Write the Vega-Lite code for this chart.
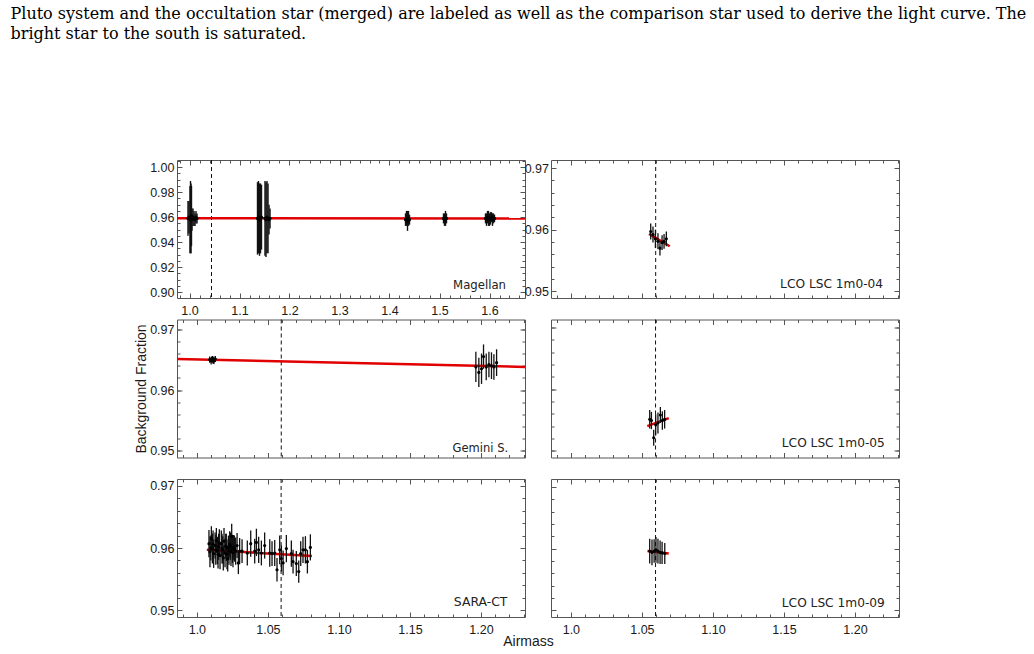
{
"$schema": "https://vega.github.io/schema/vega-lite/v6.json",
"background": "white",
"padding": {"left": 10, "top": 5, "right": 4, "bottom": 0},
"title": {"text": ["Pluto system and the occultation star (merged) are labeled as well as the comparison star used to derive the light curve. The", "bright star to the south is saturated."], "anchor": "start", "frame": "bounds", "font": "DejaVu Serif", "fontSize": 16, "fontWeight": "normal", "color": "#000", "lineHeight": 20.5, "baseline": "bottom", "offset": 101, "dx": -123},
"datasets": {
"pts": [
{"panel":"Magellan","airmass":0.997,"frac":0.959,"err":0.014},
{"panel":"Magellan","airmass":0.999,"frac":0.960,"err":0.013},
{"panel":"Magellan","airmass":1.001,"frac":0.958,"err":0.027},
{"panel":"Magellan","airmass":1.002,"frac":0.960,"err":0.029},
{"panel":"Magellan","airmass":1.003,"frac":0.959,"err":0.028},
{"panel":"Magellan","airmass":1.004,"frac":0.961,"err":0.024},
{"panel":"Magellan","airmass":1.005,"frac":0.958,"err":0.009},
{"panel":"Magellan","airmass":1.007,"frac":0.960,"err":0.007},
{"panel":"Magellan","airmass":1.009,"frac":0.959,"err":0.006},
{"panel":"Magellan","airmass":1.011,"frac":0.958,"err":0.005},
{"panel":"Magellan","airmass":1.013,"frac":0.960,"err":0.005},
{"panel":"Magellan","airmass":1.015,"frac":0.959,"err":0.004},
{"panel":"Magellan","airmass":1.136,"frac":0.959,"err":0.029},
{"panel":"Magellan","airmass":1.138,"frac":0.960,"err":0.029},
{"panel":"Magellan","airmass":1.140,"frac":0.958,"err":0.029},
{"panel":"Magellan","airmass":1.142,"frac":0.959,"err":0.028},
{"panel":"Magellan","airmass":1.144,"frac":0.960,"err":0.026},
{"panel":"Magellan","airmass":1.151,"frac":0.959,"err":0.030},
{"panel":"Magellan","airmass":1.153,"frac":0.958,"err":0.030},
{"panel":"Magellan","airmass":1.155,"frac":0.960,"err":0.029},
{"panel":"Magellan","airmass":1.157,"frac":0.959,"err":0.028},
{"panel":"Magellan","airmass":1.159,"frac":0.958,"err":0.012},
{"panel":"Magellan","airmass":1.161,"frac":0.959,"err":0.008},
{"panel":"Magellan","airmass":1.432,"frac":0.958,"err":0.005},
{"panel":"Magellan","airmass":1.434,"frac":0.959,"err":0.006},
{"panel":"Magellan","airmass":1.436,"frac":0.957,"err":0.008},
{"panel":"Magellan","airmass":1.438,"frac":0.959,"err":0.006},
{"panel":"Magellan","airmass":1.440,"frac":0.958,"err":0.004},
{"panel":"Magellan","airmass":1.508,"frac":0.959,"err":0.004},
{"panel":"Magellan","airmass":1.510,"frac":0.958,"err":0.005},
{"panel":"Magellan","airmass":1.512,"frac":0.959,"err":0.006},
{"panel":"Magellan","airmass":1.514,"frac":0.959,"err":0.004},
{"panel":"Magellan","airmass":1.592,"frac":0.959,"err":0.004},
{"panel":"Magellan","airmass":1.594,"frac":0.958,"err":0.005},
{"panel":"Magellan","airmass":1.596,"frac":0.960,"err":0.005},
{"panel":"Magellan","airmass":1.598,"frac":0.959,"err":0.006},
{"panel":"Magellan","airmass":1.600,"frac":0.958,"err":0.005},
{"panel":"Magellan","airmass":1.602,"frac":0.959,"err":0.005},
{"panel":"Magellan","airmass":1.604,"frac":0.960,"err":0.004},
{"panel":"Magellan","airmass":1.606,"frac":0.958,"err":0.005},
{"panel":"Magellan","airmass":1.608,"frac":0.959,"err":0.004},
{"panel":"Magellan","airmass":1.610,"frac":0.959,"err":0.003},
{"panel":"Gemini S.","airmass":1.009,"frac":0.9650,"err":0.0005},
{"panel":"Gemini S.","airmass":1.010,"frac":0.9648,"err":0.0006},
{"panel":"Gemini S.","airmass":1.0105,"frac":0.9651,"err":0.0004},
{"panel":"Gemini S.","airmass":1.011,"frac":0.9652,"err":0.0004},
{"panel":"Gemini S.","airmass":1.0115,"frac":0.9647,"err":0.0004},
{"panel":"Gemini S.","airmass":1.012,"frac":0.9649,"err":0.0006},
{"panel":"Gemini S.","airmass":1.013,"frac":0.9651,"err":0.0005},
{"panel":"Gemini S.","airmass":1.1964,"frac":0.9638,"err":0.0025},
{"panel":"Gemini S.","airmass":1.1985,"frac":0.9629,"err":0.0024},
{"panel":"Gemini S.","airmass":1.2004,"frac":0.9635,"err":0.0025},
{"panel":"Gemini S.","airmass":1.2018,"frac":0.9655,"err":0.0020},
{"panel":"Gemini S.","airmass":1.2037,"frac":0.9638,"err":0.0022},
{"panel":"Gemini S.","airmass":1.2056,"frac":0.9642,"err":0.0021},
{"panel":"Gemini S.","airmass":1.2074,"frac":0.9640,"err":0.0022},
{"panel":"Gemini S.","airmass":1.2091,"frac":0.9638,"err":0.0021},
{"panel":"Gemini S.","airmass":1.2110,"frac":0.9645,"err":0.0022},
{"panel":"SARA-CT","airmass":1.0085,"frac":0.9607,"err":0.0022},
{"panel":"SARA-CT","airmass":1.0092,"frac":0.9594,"err":0.0025},
{"panel":"SARA-CT","airmass":1.0098,"frac":0.9600,"err":0.0020},
{"panel":"SARA-CT","airmass":1.0102,"frac":0.9615,"err":0.0020},
{"panel":"SARA-CT","airmass":1.0109,"frac":0.9599,"err":0.0024},
{"panel":"SARA-CT","airmass":1.0114,"frac":0.9606,"err":0.0022},
{"panel":"SARA-CT","airmass":1.0118,"frac":0.9591,"err":0.0023},
{"panel":"SARA-CT","airmass":1.0128,"frac":0.9604,"err":0.0021},
{"panel":"SARA-CT","airmass":1.0133,"frac":0.9597,"err":0.0024},
{"panel":"SARA-CT","airmass":1.0137,"frac":0.9612,"err":0.0020},
{"panel":"SARA-CT","airmass":1.0144,"frac":0.9596,"err":0.0022},
{"panel":"SARA-CT","airmass":1.0149,"frac":0.9590,"err":0.0023},
{"panel":"SARA-CT","airmass":1.0153,"frac":0.9602,"err":0.0021},
{"panel":"SARA-CT","airmass":1.0158,"frac":0.9608,"err":0.0022},
{"panel":"SARA-CT","airmass":1.0163,"frac":0.9588,"err":0.0022},
{"panel":"SARA-CT","airmass":1.0172,"frac":0.9607,"err":0.0021},
{"panel":"SARA-CT","airmass":1.0177,"frac":0.9599,"err":0.0024},
{"panel":"SARA-CT","airmass":1.0182,"frac":0.9597,"err":0.0022},
{"panel":"SARA-CT","airmass":1.0186,"frac":0.9584,"err":0.0020},
{"panel":"SARA-CT","airmass":1.0191,"frac":0.9611,"err":0.0021},
{"panel":"SARA-CT","airmass":1.0198,"frac":0.9592,"err":0.0023},
{"panel":"SARA-CT","airmass":1.0203,"frac":0.9603,"err":0.0020},
{"panel":"SARA-CT","airmass":1.0207,"frac":0.9601,"err":0.0022},
{"panel":"SARA-CT","airmass":1.0212,"frac":0.9590,"err":0.0024},
{"panel":"SARA-CT","airmass":1.0217,"frac":0.9583,"err":0.0021},
{"panel":"SARA-CT","airmass":1.0222,"frac":0.9600,"err":0.0020},
{"panel":"SARA-CT","airmass":1.0226,"frac":0.9595,"err":0.0022},
{"panel":"SARA-CT","airmass":1.0231,"frac":0.9606,"err":0.0021},
{"panel":"SARA-CT","airmass":1.0236,"frac":0.9603,"err":0.0022},
{"panel":"SARA-CT","airmass":1.0240,"frac":0.9594,"err":0.0023},
{"panel":"SARA-CT","airmass":1.0245,"frac":0.9619,"err":0.0020},
{"panel":"SARA-CT","airmass":1.0250,"frac":0.9598,"err":0.0022},
{"panel":"SARA-CT","airmass":1.0254,"frac":0.9592,"err":0.0023},
{"panel":"SARA-CT","airmass":1.0259,"frac":0.9601,"err":0.0020},
{"panel":"SARA-CT","airmass":1.0264,"frac":0.9599,"err":0.0021},
{"panel":"SARA-CT","airmass":1.0273,"frac":0.9595,"err":0.0022},
{"panel":"SARA-CT","airmass":1.0283,"frac":0.9604,"err":0.0020},
{"panel":"SARA-CT","airmass":1.0292,"frac":0.9576,"err":0.0018},
{"panel":"SARA-CT","airmass":1.0301,"frac":0.9595,"err":0.0021},
{"panel":"SARA-CT","airmass":1.0318,"frac":0.9595,"err":0.0019},
{"panel":"SARA-CT","airmass":1.0355,"frac":0.9592,"err":0.0020},
{"panel":"SARA-CT","airmass":1.0379,"frac":0.9607,"err":0.0021},
{"panel":"SARA-CT","airmass":1.0407,"frac":0.9595,"err":0.0020},
{"panel":"SARA-CT","airmass":1.0419,"frac":0.9609,"err":0.0022},
{"panel":"SARA-CT","airmass":1.0435,"frac":0.9597,"err":0.0021},
{"panel":"SARA-CT","airmass":1.0454,"frac":0.9592,"err":0.0020},
{"panel":"SARA-CT","airmass":1.0477,"frac":0.9604,"err":0.0021},
{"panel":"SARA-CT","airmass":1.0513,"frac":0.9592,"err":0.0022},
{"panel":"SARA-CT","airmass":1.0529,"frac":0.9591,"err":0.0020},
{"panel":"SARA-CT","airmass":1.0548,"frac":0.9592,"err":0.0021},
{"panel":"SARA-CT","airmass":1.0564,"frac":0.9565,"err":0.0019},
{"panel":"SARA-CT","airmass":1.0583,"frac":0.9597,"err":0.0023},
{"panel":"SARA-CT","airmass":1.0595,"frac":0.9583,"err":0.0021},
{"panel":"SARA-CT","airmass":1.0607,"frac":0.9576,"err":0.0020},
{"panel":"SARA-CT","airmass":1.0630,"frac":0.9599,"err":0.0022},
{"panel":"SARA-CT","airmass":1.0665,"frac":0.9591,"err":0.0021},
{"panel":"SARA-CT","airmass":1.0677,"frac":0.9578,"err":0.0019},
{"panel":"SARA-CT","airmass":1.0700,"frac":0.9575,"err":0.0020},
{"panel":"SARA-CT","airmass":1.0717,"frac":0.9562,"err":0.0018},
{"panel":"SARA-CT","airmass":1.0731,"frac":0.9591,"err":0.0020},
{"panel":"SARA-CT","airmass":1.0747,"frac":0.9597,"err":0.0021},
{"panel":"SARA-CT","airmass":1.0764,"frac":0.9597,"err":0.0022},
{"panel":"SARA-CT","airmass":1.0778,"frac":0.9578,"err":0.0019},
{"panel":"SARA-CT","airmass":1.0799,"frac":0.9601,"err":0.0021},
{"panel":"LCO LSC 1m0-04","airmass":1.0562,"frac":0.9597,"err":0.0013},
{"panel":"LCO LSC 1m0-04","airmass":1.0578,"frac":0.9592,"err":0.0013},
{"panel":"LCO LSC 1m0-04","airmass":1.0595,"frac":0.9585,"err":0.0015},
{"panel":"LCO LSC 1m0-04","airmass":1.0613,"frac":0.9581,"err":0.0013},
{"panel":"LCO LSC 1m0-04","airmass":1.0627,"frac":0.9570,"err":0.0012},
{"panel":"LCO LSC 1m0-04","airmass":1.0642,"frac":0.9579,"err":0.0012},
{"panel":"LCO LSC 1m0-04","airmass":1.0656,"frac":0.9581,"err":0.0012},
{"panel":"LCO LSC 1m0-04","airmass":1.0672,"frac":0.9585,"err":0.0012},
{"panel":"LCO LSC 1m0-05","airmass":1.0555,"frac":0.9551,"err":0.0015},
{"panel":"LCO LSC 1m0-05","airmass":1.0567,"frac":0.9549,"err":0.0014},
{"panel":"LCO LSC 1m0-05","airmass":1.0583,"frac":0.9521,"err":0.0013},
{"panel":"LCO LSC 1m0-05","airmass":1.0597,"frac":0.9542,"err":0.0017},
{"panel":"LCO LSC 1m0-05","airmass":1.0613,"frac":0.9545,"err":0.0017},
{"panel":"LCO LSC 1m0-05","airmass":1.0630,"frac":0.9558,"err":0.0013},
{"panel":"LCO LSC 1m0-05","airmass":1.0644,"frac":0.9549,"err":0.0015},
{"panel":"LCO LSC 1m0-05","airmass":1.0660,"frac":0.9551,"err":0.0015},
{"panel":"LCO LSC 1m0-09","airmass":1.0555,"frac":0.9596,"err":0.0020},
{"panel":"LCO LSC 1m0-09","airmass":1.0571,"frac":0.9594,"err":0.0021},
{"panel":"LCO LSC 1m0-09","airmass":1.0586,"frac":0.9596,"err":0.0019},
{"panel":"LCO LSC 1m0-09","airmass":1.0599,"frac":0.9598,"err":0.0021},
{"panel":"LCO LSC 1m0-09","airmass":1.0613,"frac":0.9596,"err":0.0020},
{"panel":"LCO LSC 1m0-09","airmass":1.0628,"frac":0.9594,"err":0.0019},
{"panel":"LCO LSC 1m0-09","airmass":1.0642,"frac":0.9593,"err":0.0018},
{"panel":"LCO LSC 1m0-09","airmass":1.0661,"frac":0.9592,"err":0.0017}
],
"fits": [
{"panel":"Magellan","airmass":0.975,"frac":0.9592},
{"panel":"Magellan","airmass":1.671,"frac":0.9590},
{"panel":"Gemini S.","airmass":0.986,"frac":0.9651},
{"panel":"Gemini S.","airmass":1.231,"frac":0.9638},
{"panel":"SARA-CT","airmass":1.007,"frac":0.9597},
{"panel":"SARA-CT","airmass":1.081,"frac":0.9587},
{"panel":"LCO LSC 1m0-04","airmass":1.0550,"frac":0.9593},
{"panel":"LCO LSC 1m0-04","airmass":1.0696,"frac":0.9573},
{"panel":"LCO LSC 1m0-05","airmass":1.0538,"frac":0.9540},
{"panel":"LCO LSC 1m0-05","airmass":1.0689,"frac":0.9553},
{"panel":"LCO LSC 1m0-09","airmass":1.0539,"frac":0.9596},
{"panel":"LCO LSC 1m0-09","airmass":1.0689,"frac":0.9592}
],
"evt": [
{"panel":"Magellan","airmass":1.044},
{"panel":"LCO LSC 1m0-04","airmass":1.0597},
{"panel":"Gemini S.","airmass":1.0594},
{"panel":"LCO LSC 1m0-05","airmass":1.0596},
{"panel":"SARA-CT","airmass":1.0593},
{"panel":"LCO LSC 1m0-09","airmass":1.0596}
]
},
"columns": 2,
"bounds": "flush",
"spacing": {"row": 21.5, "column": 26},
"concat": [
{
"width": 348, "height": 138,
"layer": [
{"data":{"name":"evt"},"transform":[{"filter":"datum.panel=='Magellan'"}],
 "mark":{"type":"rule","color":"#111","strokeDash":[4,3],"strokeWidth":1},
 "encoding":{"x":{"field":"airmass","type":"quantitative","scale":{"domain":[0.975,1.671],"nice":false,"zero":false},"axis":null}}},
{"data":{"name":"fits"},"transform":[{"filter":"datum.panel=='Magellan'"}],
 "mark":{"type":"line","color":"#e00000","strokeWidth":2.5,"clip":true},
 "encoding":{
  "x":{"field":"airmass","type":"quantitative","scale":{"domain":[0.975,1.671],"nice":false,"zero":false},"axis":{"orient":"top","values":[1,1.1,1.2,1.3,1.4,1.5,1.6],"tickSize":-5,"labels":false,"title":null}},
  "y":{"field":"frac","type":"quantitative","scale":{"domain":[0.8952,1.0058],"nice":false,"zero":false},"axis":{"orient":"right","values":[0.9,0.92,0.94,0.96,0.98,1],"tickSize":-5,"labels":false,"title":null}}}},
{"data":{"name":"pts"},"transform":[{"filter":"datum.panel=='Magellan'"}],
 "mark":{"type":"errorbar","color":"#111","thickness":1.4},
 "encoding":{
  "x":{"field":"airmass","type":"quantitative","scale":{"domain":[0.975,1.671],"nice":false,"zero":false},"axis":{"orient":"bottom","values":[0.98,1,1.02,1.04,1.06,1.08,1.1,1.12,1.14,1.16,1.18,1.2,1.22,1.24,1.26,1.28,1.3,1.32,1.34,1.36,1.38,1.4,1.42,1.44,1.46,1.48,1.5,1.52,1.54,1.56,1.58,1.6,1.62,1.64,1.66],"tickSize":-3,"labels":false,"title":null}},
  "y":{"field":"frac","type":"quantitative","scale":{"domain":[0.8952,1.0058],"nice":false,"zero":false},"axis":{"orient":"left","values":[0.9,0.905,0.91,0.915,0.92,0.925,0.93,0.935,0.94,0.945,0.95,0.955,0.96,0.965,0.97,0.975,0.98,0.985,0.99,0.995,1,1.005],"tickSize":-3,"labels":false,"title":null}},
  "yError":{"field":"err"}}},
{"data":{"name":"pts"},"transform":[{"filter":"datum.panel=='Magellan'"}],
 "mark":{"type":"circle","color":"#000","opacity":1,"size":10},
 "encoding":{
  "x":{"field":"airmass","type":"quantitative","scale":{"domain":[0.975,1.671],"nice":false,"zero":false},"axis":{"orient":"bottom","values":[1,1.1,1.2,1.3,1.4,1.5,1.6],"format":".1f","tickSize":-5,"labelPadding":11,"title":null}},
  "y":{"field":"frac","type":"quantitative","scale":{"domain":[0.8952,1.0058],"nice":false,"zero":false},"axis":{"orient":"left","values":[0.9,0.92,0.94,0.96,0.98,1],"format":".2f","tickSize":-5,"labelPadding":8,"title":null}}}},
{"data":{"name":"evt"},"transform":[{"filter":"datum.panel=='Magellan'"}],
 "mark":{"type":"text","align":"right","baseline":"alphabetic","font":"DejaVu Sans","fontSize":11.7,"color":"#222"},
 "encoding":{
  "x":{"datum":1.633,"type":"quantitative","scale":{"domain":[0.975,1.671],"nice":false,"zero":false},"axis":{"orient":"top","values":[0.98,1,1.02,1.04,1.06,1.08,1.1,1.12,1.14,1.16,1.18,1.2,1.22,1.24,1.26,1.28,1.3,1.32,1.34,1.36,1.38,1.4,1.42,1.44,1.46,1.48,1.5,1.52,1.54,1.56,1.58,1.6,1.62,1.64,1.66],"tickSize":-3,"labels":false,"title":null}},
  "y":{"datum":0.9026,"type":"quantitative","scale":{"domain":[0.8952,1.0058],"nice":false,"zero":false},"axis":{"orient":"right","values":[0.9,0.905,0.91,0.915,0.92,0.925,0.93,0.935,0.94,0.945,0.95,0.955,0.96,0.965,0.97,0.975,0.98,0.985,0.99,0.995,1,1.005],"tickSize":-3,"labels":false,"title":null}},
  "text":{"field":"panel"}}}
],
"resolve":{"axis":{"x":"independent","y":"independent"}}
},
{
"width": 348, "height": 138,
"layer": [
{"data":{"name":"evt"},"transform":[{"filter":"datum.panel=='LCO LSC 1m0-04'"}],
 "mark":{"type":"rule","color":"#111","strokeDash":[4,3],"strokeWidth":1},
 "encoding":{"x":{"field":"airmass","type":"quantitative","scale":{"domain":[0.986,1.231],"nice":false,"zero":false},"axis":null}}},
{"data":{"name":"fits"},"transform":[{"filter":"datum.panel=='LCO LSC 1m0-04'"}],
 "mark":{"type":"line","color":"#e00000","strokeWidth":2.5,"clip":true},
 "encoding":{
  "x":{"field":"airmass","type":"quantitative","scale":{"domain":[0.986,1.231],"nice":false,"zero":false},"axis":{"orient":"top","values":[1,1.05,1.1,1.15,1.2],"tickSize":-5,"labels":false,"title":null}},
  "y":{"field":"frac","type":"quantitative","scale":{"domain":[0.9489,0.9713],"nice":false,"zero":false},"axis":{"orient":"right","values":[0.95,0.96,0.97],"tickSize":-5,"labels":false,"title":null}}}},
{"data":{"name":"pts"},"transform":[{"filter":"datum.panel=='LCO LSC 1m0-04'"}],
 "mark":{"type":"errorbar","color":"#111","thickness":1.3},
 "encoding":{
  "x":{"field":"airmass","type":"quantitative","scale":{"domain":[0.986,1.231],"nice":false,"zero":false},"axis":{"orient":"bottom","values":[0.99,1,1.01,1.02,1.03,1.04,1.05,1.06,1.07,1.08,1.09,1.1,1.11,1.12,1.13,1.14,1.15,1.16,1.17,1.18,1.19,1.2,1.21,1.22,1.23],"tickSize":-3,"labels":false,"title":null}},
  "y":{"field":"frac","type":"quantitative","scale":{"domain":[0.9489,0.9713],"nice":false,"zero":false},"axis":{"orient":"left","values":[0.95,0.952,0.954,0.956,0.958,0.96,0.962,0.964,0.966,0.968,0.97],"tickSize":-3,"labels":false,"title":null}},
  "yError":{"field":"err"}}},
{"data":{"name":"pts"},"transform":[{"filter":"datum.panel=='LCO LSC 1m0-04'"}],
 "mark":{"type":"circle","color":"#000","opacity":1,"size":10},
 "encoding":{
  "x":{"field":"airmass","type":"quantitative","scale":{"domain":[0.986,1.231],"nice":false,"zero":false},"axis":{"orient":"bottom","values":[1,1.05,1.1,1.15,1.2],"tickSize":-5,"labels":false,"title":null}},
  "y":{"field":"frac","type":"quantitative","scale":{"domain":[0.9489,0.9713],"nice":false,"zero":false},"axis":{"orient":"left","values":[0.95,0.96,0.97],"format":".2f","tickSize":-5,"labelPadding":7.5,"title":null}}}},
{"data":{"name":"evt"},"transform":[{"filter":"datum.panel=='LCO LSC 1m0-04'"}],
 "mark":{"type":"text","align":"right","baseline":"alphabetic","font":"DejaVu Sans","fontSize":12.2,"color":"#222"},
 "encoding":{
  "x":{"datum":1.2198,"type":"quantitative","scale":{"domain":[0.986,1.231],"nice":false,"zero":false},"axis":{"orient":"top","values":[0.99,1,1.01,1.02,1.03,1.04,1.05,1.06,1.07,1.08,1.09,1.1,1.11,1.12,1.13,1.14,1.15,1.16,1.17,1.18,1.19,1.2,1.21,1.22,1.23],"tickSize":-3,"labels":false,"title":null}},
  "y":{"datum":0.9505,"type":"quantitative","scale":{"domain":[0.9489,0.9713],"nice":false,"zero":false},"axis":{"orient":"right","values":[0.95,0.952,0.954,0.956,0.958,0.96,0.962,0.964,0.966,0.968,0.97],"tickSize":-3,"labels":false,"title":null}},
  "text":{"field":"panel"}}}
],
"resolve":{"axis":{"x":"independent","y":"independent"}}
},
{
"width": 348, "height": 138,
"layer": [
{"data":{"name":"evt"},"transform":[{"filter":"datum.panel=='Gemini S.'"}],
 "mark":{"type":"rule","color":"#111","strokeDash":[4,3],"strokeWidth":1},
 "encoding":{"x":{"field":"airmass","type":"quantitative","scale":{"domain":[0.986,1.231],"nice":false,"zero":false},"axis":null}}},
{"data":{"name":"fits"},"transform":[{"filter":"datum.panel=='Gemini S.'"}],
 "mark":{"type":"line","color":"#e00000","strokeWidth":2.5,"clip":true},
 "encoding":{
  "x":{"field":"airmass","type":"quantitative","scale":{"domain":[0.986,1.231],"nice":false,"zero":false},"axis":{"orient":"top","values":[1,1.05,1.1,1.15,1.2],"tickSize":-5,"labels":false,"title":null}},
  "y":{"field":"frac","type":"quantitative","scale":{"domain":[0.9489,0.9716],"nice":false,"zero":false},"axis":{"orient":"right","values":[0.95,0.96,0.97],"tickSize":-5,"labels":false,"title":null}}}},
{"data":{"name":"pts"},"transform":[{"filter":"datum.panel=='Gemini S.'"}],
 "mark":{"type":"errorbar","color":"#111","thickness":1.3},
 "encoding":{
  "x":{"field":"airmass","type":"quantitative","scale":{"domain":[0.986,1.231],"nice":false,"zero":false},"axis":{"orient":"bottom","values":[0.99,1,1.01,1.02,1.03,1.04,1.05,1.06,1.07,1.08,1.09,1.1,1.11,1.12,1.13,1.14,1.15,1.16,1.17,1.18,1.19,1.2,1.21,1.22,1.23],"tickSize":-3,"labels":false,"title":null}},
  "y":{"field":"frac","type":"quantitative","scale":{"domain":[0.9489,0.9716],"nice":false,"zero":false},"axis":{"orient":"left","values":[0.95,0.952,0.954,0.956,0.958,0.96,0.962,0.964,0.966,0.968,0.97],"tickSize":-3,"labels":false,"title":null}},
  "yError":{"field":"err"}}},
{"data":{"name":"pts"},"transform":[{"filter":"datum.panel=='Gemini S.'"}],
 "mark":{"type":"circle","color":"#000","opacity":1,"size":10},
 "encoding":{
  "x":{"field":"airmass","type":"quantitative","scale":{"domain":[0.986,1.231],"nice":false,"zero":false},"axis":{"orient":"bottom","values":[1,1.05,1.1,1.15,1.2],"tickSize":-5,"labels":false,"title":null}},
  "y":{"field":"frac","type":"quantitative","scale":{"domain":[0.9489,0.9716],"nice":false,"zero":false},"axis":{"orient":"left","values":[0.95,0.96,0.97],"format":".2f","tickSize":-5,"labelPadding":8,"title":"Background Fraction","titleX":-32,"titleY":69,"titleBaseline":"alphabetic","titleAlign":"center"}}}},
{"data":{"name":"evt"},"transform":[{"filter":"datum.panel=='Gemini S.'"}],
 "mark":{"type":"text","align":"right","baseline":"alphabetic","font":"DejaVu Sans","fontSize":11.5,"color":"#222"},
 "encoding":{
  "x":{"datum":1.2191,"type":"quantitative","scale":{"domain":[0.986,1.231],"nice":false,"zero":false},"axis":{"orient":"top","values":[0.99,1,1.01,1.02,1.03,1.04,1.05,1.06,1.07,1.08,1.09,1.1,1.11,1.12,1.13,1.14,1.15,1.16,1.17,1.18,1.19,1.2,1.21,1.22,1.23],"tickSize":-3,"labels":false,"title":null}},
  "y":{"datum":0.9498,"type":"quantitative","scale":{"domain":[0.9489,0.9716],"nice":false,"zero":false},"axis":{"orient":"right","values":[0.95,0.952,0.954,0.956,0.958,0.96,0.962,0.964,0.966,0.968,0.97],"tickSize":-3,"labels":false,"title":null}},
  "text":{"field":"panel"}}}
],
"resolve":{"axis":{"x":"independent","y":"independent"}}
},
{
"width": 348, "height": 138,
"layer": [
{"data":{"name":"evt"},"transform":[{"filter":"datum.panel=='LCO LSC 1m0-05'"}],
 "mark":{"type":"rule","color":"#111","strokeDash":[4,3],"strokeWidth":1},
 "encoding":{"x":{"field":"airmass","type":"quantitative","scale":{"domain":[0.986,1.231],"nice":false,"zero":false},"axis":null}}},
{"data":{"name":"fits"},"transform":[{"filter":"datum.panel=='LCO LSC 1m0-05'"}],
 "mark":{"type":"line","color":"#e00000","strokeWidth":2.5,"clip":true},
 "encoding":{
  "x":{"field":"airmass","type":"quantitative","scale":{"domain":[0.986,1.231],"nice":false,"zero":false},"axis":{"orient":"top","values":[1,1.05,1.1,1.15,1.2],"tickSize":-5,"labels":false,"title":null}},
  "y":{"field":"frac","type":"quantitative","scale":{"domain":[0.9489,0.9713],"nice":false,"zero":false},"axis":{"orient":"right","values":[0.95,0.96,0.97],"tickSize":-5,"labels":false,"title":null}}}},
{"data":{"name":"pts"},"transform":[{"filter":"datum.panel=='LCO LSC 1m0-05'"}],
 "mark":{"type":"errorbar","color":"#111","thickness":1.3},
 "encoding":{
  "x":{"field":"airmass","type":"quantitative","scale":{"domain":[0.986,1.231],"nice":false,"zero":false},"axis":{"orient":"bottom","values":[0.99,1,1.01,1.02,1.03,1.04,1.05,1.06,1.07,1.08,1.09,1.1,1.11,1.12,1.13,1.14,1.15,1.16,1.17,1.18,1.19,1.2,1.21,1.22,1.23],"tickSize":-3,"labels":false,"title":null}},
  "y":{"field":"frac","type":"quantitative","scale":{"domain":[0.9489,0.9713],"nice":false,"zero":false},"axis":{"orient":"left","values":[0.95,0.952,0.954,0.956,0.958,0.96,0.962,0.964,0.966,0.968,0.97],"tickSize":-3,"labels":false,"title":null}},
  "yError":{"field":"err"}}},
{"data":{"name":"pts"},"transform":[{"filter":"datum.panel=='LCO LSC 1m0-05'"}],
 "mark":{"type":"circle","color":"#000","opacity":1,"size":10},
 "encoding":{
  "x":{"field":"airmass","type":"quantitative","scale":{"domain":[0.986,1.231],"nice":false,"zero":false},"axis":{"orient":"bottom","values":[1,1.05,1.1,1.15,1.2],"tickSize":-5,"labels":false,"title":null}},
  "y":{"field":"frac","type":"quantitative","scale":{"domain":[0.9489,0.9713],"nice":false,"zero":false},"axis":{"orient":"left","values":[0.95,0.96,0.97],"tickSize":-5,"labels":false,"title":null}}}},
{"data":{"name":"evt"},"transform":[{"filter":"datum.panel=='LCO LSC 1m0-05'"}],
 "mark":{"type":"text","align":"right","baseline":"alphabetic","font":"DejaVu Sans","fontSize":12.2,"color":"#222"},
 "encoding":{
  "x":{"datum":1.221,"type":"quantitative","scale":{"domain":[0.986,1.231],"nice":false,"zero":false},"axis":{"orient":"top","values":[0.99,1,1.01,1.02,1.03,1.04,1.05,1.06,1.07,1.08,1.09,1.1,1.11,1.12,1.13,1.14,1.15,1.16,1.17,1.18,1.19,1.2,1.21,1.22,1.23],"tickSize":-3,"labels":false,"title":null}},
  "y":{"datum":0.9506,"type":"quantitative","scale":{"domain":[0.9489,0.9713],"nice":false,"zero":false},"axis":{"orient":"right","values":[0.95,0.952,0.954,0.956,0.958,0.96,0.962,0.964,0.966,0.968,0.97],"tickSize":-3,"labels":false,"title":null}},
  "text":{"field":"panel"}}}
],
"resolve":{"axis":{"x":"independent","y":"independent"}}
},
{
"width": 348, "height": 138,
"layer": [
{"data":{"name":"evt"},"transform":[{"filter":"datum.panel=='SARA-CT'"}],
 "mark":{"type":"rule","color":"#111","strokeDash":[4,3],"strokeWidth":1},
 "encoding":{"x":{"field":"airmass","type":"quantitative","scale":{"domain":[0.986,1.231],"nice":false,"zero":false},"axis":null}}},
{"data":{"name":"fits"},"transform":[{"filter":"datum.panel=='SARA-CT'"}],
 "mark":{"type":"line","color":"#e00000","strokeWidth":2.5,"clip":true},
 "encoding":{
  "x":{"field":"airmass","type":"quantitative","scale":{"domain":[0.986,1.231],"nice":false,"zero":false},"axis":{"orient":"top","values":[1,1.05,1.1,1.15,1.2],"tickSize":-5,"labels":false,"title":null}},
  "y":{"field":"frac","type":"quantitative","scale":{"domain":[0.9489,0.9711],"nice":false,"zero":false},"axis":{"orient":"right","values":[0.95,0.96,0.97],"tickSize":-5,"labels":false,"title":null}}}},
{"data":{"name":"pts"},"transform":[{"filter":"datum.panel=='SARA-CT'"}],
 "mark":{"type":"errorbar","color":"#111","thickness":1.3},
 "encoding":{
  "x":{"field":"airmass","type":"quantitative","scale":{"domain":[0.986,1.231],"nice":false,"zero":false},"axis":{"orient":"bottom","values":[0.99,1,1.01,1.02,1.03,1.04,1.05,1.06,1.07,1.08,1.09,1.1,1.11,1.12,1.13,1.14,1.15,1.16,1.17,1.18,1.19,1.2,1.21,1.22,1.23],"tickSize":-3,"labels":false,"title":null}},
  "y":{"field":"frac","type":"quantitative","scale":{"domain":[0.9489,0.9711],"nice":false,"zero":false},"axis":{"orient":"left","values":[0.95,0.952,0.954,0.956,0.958,0.96,0.962,0.964,0.966,0.968,0.97],"tickSize":-3,"labels":false,"title":null}},
  "yError":{"field":"err"}}},
{"data":{"name":"pts"},"transform":[{"filter":"datum.panel=='SARA-CT'"}],
 "mark":{"type":"circle","color":"#000","opacity":1,"size":10},
 "encoding":{
  "x":{"field":"airmass","type":"quantitative","scale":{"domain":[0.986,1.231],"nice":false,"zero":false},"axis":{"orient":"bottom","values":[1,1.05,1.1,1.15,1.2],"labelExpr":"datum.value == 1 ? '1.0' : format(datum.value, '.2f')","tickSize":-5,"labelPadding":11,"title":"Airmass","titleX":351,"titleY":28,"titleBaseline":"alphabetic","titleAlign":"center"}},
  "y":{"field":"frac","type":"quantitative","scale":{"domain":[0.9489,0.9711],"nice":false,"zero":false},"axis":{"orient":"left","values":[0.95,0.96,0.97],"format":".2f","tickSize":-5,"labelPadding":8,"title":null}}}},
{"data":{"name":"evt"},"transform":[{"filter":"datum.panel=='SARA-CT'"}],
 "mark":{"type":"text","align":"right","baseline":"alphabetic","font":"DejaVu Sans","fontSize":12.4,"color":"#222"},
 "encoding":{
  "x":{"datum":1.2186,"type":"quantitative","scale":{"domain":[0.986,1.231],"nice":false,"zero":false},"axis":{"orient":"top","values":[0.99,1,1.01,1.02,1.03,1.04,1.05,1.06,1.07,1.08,1.09,1.1,1.11,1.12,1.13,1.14,1.15,1.16,1.17,1.18,1.19,1.2,1.21,1.22,1.23],"tickSize":-3,"labels":false,"title":null}},
  "y":{"datum":0.9506,"type":"quantitative","scale":{"domain":[0.9489,0.9711],"nice":false,"zero":false},"axis":{"orient":"right","values":[0.95,0.952,0.954,0.956,0.958,0.96,0.962,0.964,0.966,0.968,0.97],"tickSize":-3,"labels":false,"title":null}},
  "text":{"field":"panel"}}}
],
"resolve":{"axis":{"x":"independent","y":"independent"}}
},
{
"width": 348, "height": 138,
"layer": [
{"data":{"name":"evt"},"transform":[{"filter":"datum.panel=='LCO LSC 1m0-09'"}],
 "mark":{"type":"rule","color":"#111","strokeDash":[4,3],"strokeWidth":1},
 "encoding":{"x":{"field":"airmass","type":"quantitative","scale":{"domain":[0.986,1.231],"nice":false,"zero":false},"axis":null}}},
{"data":{"name":"fits"},"transform":[{"filter":"datum.panel=='LCO LSC 1m0-09'"}],
 "mark":{"type":"line","color":"#e00000","strokeWidth":2.5,"clip":true},
 "encoding":{
  "x":{"field":"airmass","type":"quantitative","scale":{"domain":[0.986,1.231],"nice":false,"zero":false},"axis":{"orient":"top","values":[1,1.05,1.1,1.15,1.2],"tickSize":-5,"labels":false,"title":null}},
  "y":{"field":"frac","type":"quantitative","scale":{"domain":[0.9489,0.9713],"nice":false,"zero":false},"axis":{"orient":"right","values":[0.95,0.96,0.97],"tickSize":-5,"labels":false,"title":null}}}},
{"data":{"name":"pts"},"transform":[{"filter":"datum.panel=='LCO LSC 1m0-09'"}],
 "mark":{"type":"errorbar","color":"#111","thickness":1.3},
 "encoding":{
  "x":{"field":"airmass","type":"quantitative","scale":{"domain":[0.986,1.231],"nice":false,"zero":false},"axis":{"orient":"bottom","values":[0.99,1,1.01,1.02,1.03,1.04,1.05,1.06,1.07,1.08,1.09,1.1,1.11,1.12,1.13,1.14,1.15,1.16,1.17,1.18,1.19,1.2,1.21,1.22,1.23],"tickSize":-3,"labels":false,"title":null}},
  "y":{"field":"frac","type":"quantitative","scale":{"domain":[0.9489,0.9713],"nice":false,"zero":false},"axis":{"orient":"left","values":[0.95,0.952,0.954,0.956,0.958,0.96,0.962,0.964,0.966,0.968,0.97],"tickSize":-3,"labels":false,"title":null}},
  "yError":{"field":"err"}}},
{"data":{"name":"pts"},"transform":[{"filter":"datum.panel=='LCO LSC 1m0-09'"}],
 "mark":{"type":"circle","color":"#000","opacity":1,"size":10},
 "encoding":{
  "x":{"field":"airmass","type":"quantitative","scale":{"domain":[0.986,1.231],"nice":false,"zero":false},"axis":{"orient":"bottom","values":[1,1.05,1.1,1.15,1.2],"labelExpr":"datum.value == 1 ? '1.0' : format(datum.value, '.2f')","tickSize":-5,"labelPadding":11,"title":null}},
  "y":{"field":"frac","type":"quantitative","scale":{"domain":[0.9489,0.9713],"nice":false,"zero":false},"axis":{"orient":"left","values":[0.95,0.96,0.97],"tickSize":-5,"labels":false,"title":null}}}},
{"data":{"name":"evt"},"transform":[{"filter":"datum.panel=='LCO LSC 1m0-09'"}],
 "mark":{"type":"text","align":"right","baseline":"alphabetic","font":"DejaVu Sans","fontSize":12.2,"color":"#222"},
 "encoding":{
  "x":{"datum":1.221,"type":"quantitative","scale":{"domain":[0.986,1.231],"nice":false,"zero":false},"axis":{"orient":"top","values":[0.99,1,1.01,1.02,1.03,1.04,1.05,1.06,1.07,1.08,1.09,1.1,1.11,1.12,1.13,1.14,1.15,1.16,1.17,1.18,1.19,1.2,1.21,1.22,1.23],"tickSize":-3,"labels":false,"title":null}},
  "y":{"datum":0.9506,"type":"quantitative","scale":{"domain":[0.9489,0.9713],"nice":false,"zero":false},"axis":{"orient":"right","values":[0.95,0.952,0.954,0.956,0.958,0.96,0.962,0.964,0.966,0.968,0.97],"tickSize":-3,"labels":false,"title":null}},
  "text":{"field":"panel"}}}
],
"resolve":{"axis":{"x":"independent","y":"independent"}}
}
],
"config": {
 "view": {"stroke": "#555", "strokeWidth": 1},
 "axis": {"grid": false, "domain": false, "tickColor": "#555", "tickWidth": 1, "labelFont": "Liberation Sans", "labelFontSize": 12.5, "labelColor": "#1a1a1a", "labelFlush": false, "labelOverlap": false, "titleFont": "Liberation Sans", "titleFontSize": 14, "titleFontWeight": "normal", "titleColor": "#1a1a1a"}
}
}
